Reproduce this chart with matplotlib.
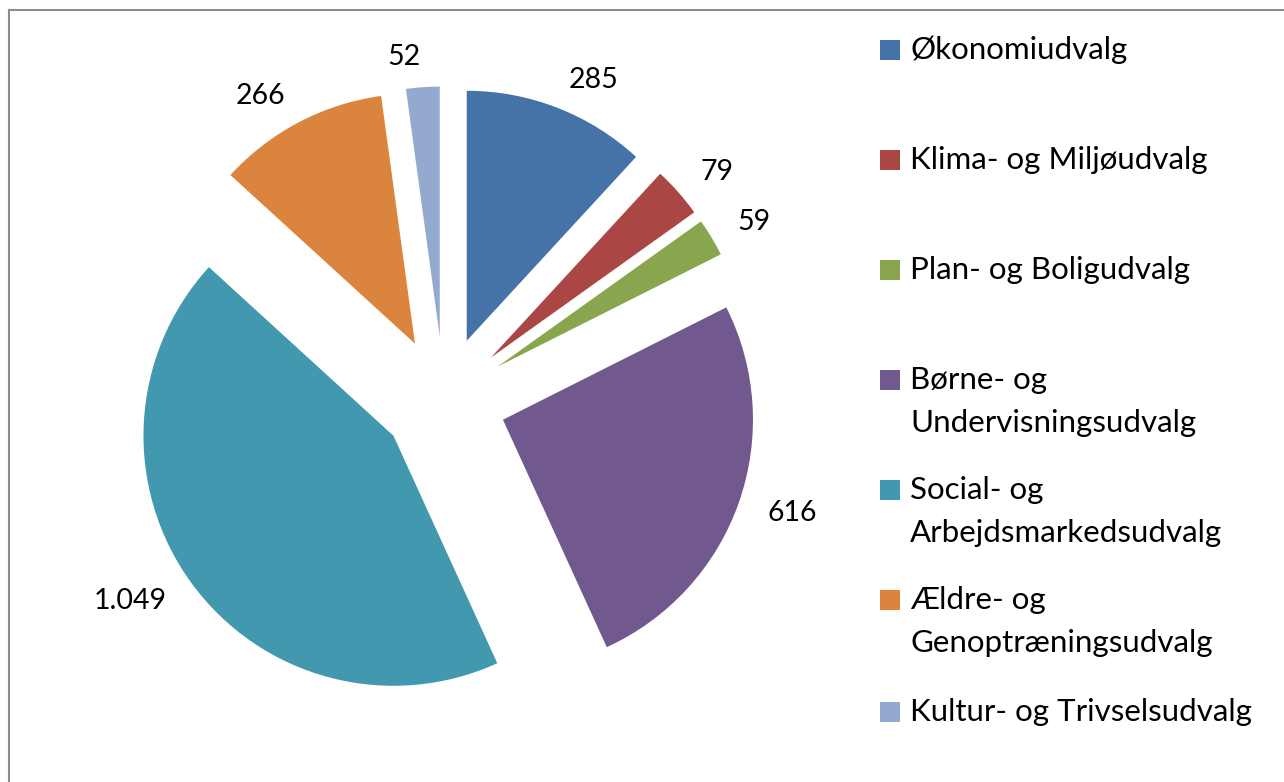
import matplotlib
matplotlib.use("Agg")
import matplotlib.pyplot as plt
from matplotlib.patches import Rectangle
from matplotlib.lines import Line2D

# budget per udvalg (mio. kr.)
udvalg = ["Økonomiudvalg", "Klima- og Miljøudvalg", "Plan- og Boligudvalg",
          "Børne- og\nUndervisningsudvalg", "Social- og\nArbejdsmarkedsudvalg",
          "Ældre- og\nGenoptræningsudvalg", "Kultur- og Trivselsudvalg"]
values = [285, 79, 59, 616, 1049, 266, 52]
colors = ["#4572A7", "#AA4643", "#89A54E", "#71588F", "#4198AF", "#DB843D", "#93A9CF"]

W, H = 1284, 782
FONT = "Lato"
plt.rcParams["font.family"] = [FONT, "DejaVu Sans"]

fig = plt.figure(figsize=(W / 100, H / 100), dpi=100)
ax = fig.add_axes([0, 0, 1, 1])

# Danish thousands separator
labels = [f"{v:,}".replace(",", ".") for v in values]
ax.pie(values, colors=colors, startangle=90, counterclock=False,
       explode=[0.25] * len(values), radius=1.0, labels=labels,
       labeldistance=1.12, textprops={"fontsize": 20.5, "color": "black"})

# place pie centre at (444, 399) px with r = 250 px
r_px = 250
cx, cy = 444, 399
ax.set_xlim(-cx / r_px, (W - cx) / r_px)
ax.set_ylim(-(H - cy) / r_px, cy / r_px)
ax.set_aspect("equal")
ax.axis("off")

# legend, drawn by hand so the swatch sits on the first line
row_y = [50, 160, 270, 380, 490, 600, 712]
for name, c, y in zip(udvalg, colors, row_y):
    fig.add_artist(Rectangle((880 / W, 1 - (y + 10) / H), 20 / W, 20 / H,
                             transform=fig.transFigure, color=c, lw=0))
    for k, line in enumerate(name.split("\n")):
        fig.text(910 / W, 1 - (y + k * 43) / H, line, fontsize=22.5,
                 ha="left", va="center")

# chart-area border (top and left edges visible)
for xs, ys in [([9 / W, 1], [1 - 10 / H, 1 - 10 / H]), ([9 / W, 9 / W], [0, 1 - 10 / H])]:
    fig.add_artist(Line2D(xs, ys, transform=fig.transFigure, color="#8c8c8c", lw=1.5))

fig.savefig("out.png", dpi=100)
